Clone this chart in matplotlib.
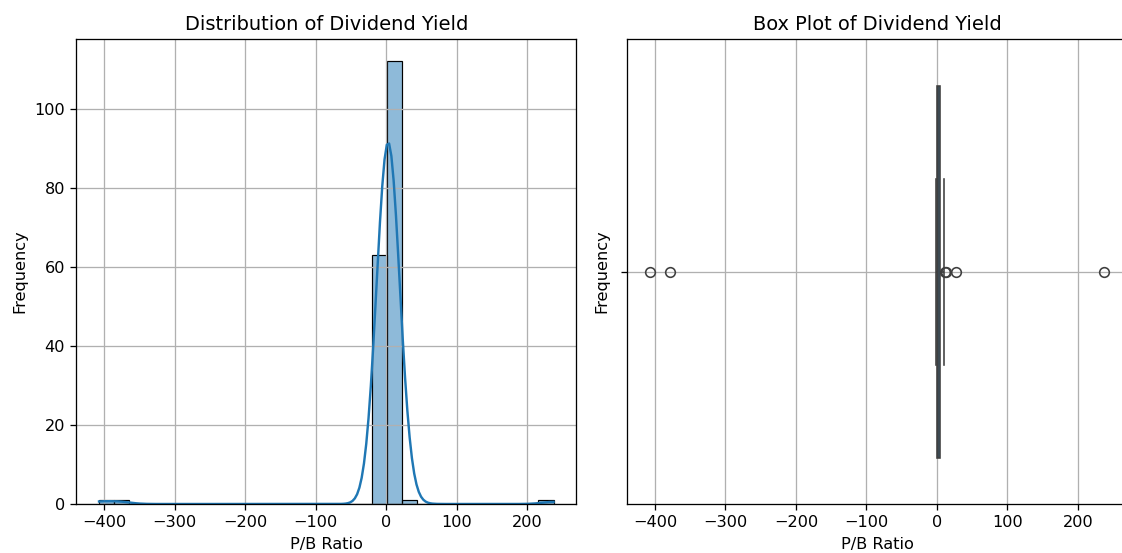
import numpy as np
import pandas as pd
import matplotlib
matplotlib.use("Agg")
import matplotlib.pyplot as plt
import seaborn as sns

# P/B ratio values (grouped by range)
low_outliers = [-407.5, -378.5]
negatives = [-1.52, -1.18, -0.94, -0.71, -0.55, -0.42, -0.31, -0.22, -0.15, -0.08]
near_zero = [0.01, 0.03, 0.04, 0.06, 0.07, 0.09, 0.1, 0.11, 0.12, 0.14,
             0.15, 0.16, 0.18, 0.19, 0.2, 0.21, 0.22, 0.24, 0.25, 0.26,
             0.27, 0.28, 0.29, 0.3, 0.31, 0.32, 0.33, 0.34, 0.35, 0.36,
             0.38, 0.39]
below_one = [0.41, 0.43, 0.45, 0.47, 0.5, 0.52, 0.55, 0.58, 0.61, 0.64,
             0.67, 0.7, 0.73, 0.76, 0.79, 0.82, 0.85, 0.88, 0.91, 0.94, 0.97]
around_one = [1.01, 1.03, 1.05, 1.07, 1.09, 1.11, 1.13, 1.15, 1.17, 1.19,
              1.21, 1.23, 1.25, 1.27, 1.29, 1.31, 1.33, 1.35, 1.37, 1.39,
              1.41, 1.43, 1.46, 1.49]
mid_range = [1.52, 1.56, 1.6, 1.64, 1.72, 1.77, 1.81, 1.86, 1.9,
             1.95, 2.0, 2.06, 2.11, 2.17, 2.22, 2.28, 2.34, 2.4, 2.47,
             2.53, 2.6, 2.67, 2.74, 2.81, 2.88, 2.96, 3.03, 3.1,
             3.18, 3.22, 3.26, 3.34, 3.42, 3.5, 3.58, 3.67, 3.75, 3.84, 3.93,
             4.02, 4.11, 4.2, 4.3, 4.4]
upper_range = [4.52, 4.61, 4.7, 4.8, 4.9, 5.0, 5.1, 5.2, 5.3,
               5.45, 5.55, 5.7, 5.8, 5.95, 6.1, 6.2, 6.35, 6.5, 6.6,
               6.75, 6.9, 7.05, 7.2, 7.35, 7.5, 7.7, 7.85, 8.0, 8.2,
               8.4, 8.55, 8.75, 8.9, 9.1, 9.2, 9.3, 9.5, 9.7, 9.85, 10.0,
               10.3, 10.48]
high_outliers = [11.6, 13.1, 27.4, 237.5]

df = pd.DataFrame({"P/B Ratio": low_outliers + negatives + near_zero + below_one
                   + around_one + mid_range + upper_range + high_outliers})

DPI = 116  # text in the original is a bit larger than at dpi 100
fig, axes = plt.subplots(1, 2, figsize=(1122 / DPI, 553 / DPI), dpi=DPI)

# histogram + kde
sns.histplot(df["P/B Ratio"], bins=30, kde=True, ax=axes[0])
axes[0].set_title("Distribution of Dividend Yield")
axes[0].set_xlabel("P/B Ratio")
axes[0].set_ylabel("Frequency")
axes[0].grid(True)

# box plot
sns.boxplot(x=df["P/B Ratio"], ax=axes[1])
axes[1].set_title("Box Plot of Dividend Yield")
axes[1].set_xlabel("P/B Ratio")
axes[1].set_ylabel("Frequency")
axes[1].grid(True)

# the original image is cropped on the right, so the second panel runs off the edge
axes[0].set_position([0.068, 0.0886, 0.4456, 0.8403])
axes[1].set_position([0.5588, 0.0886, 0.4456, 0.8403])

plt.savefig("out.png")
